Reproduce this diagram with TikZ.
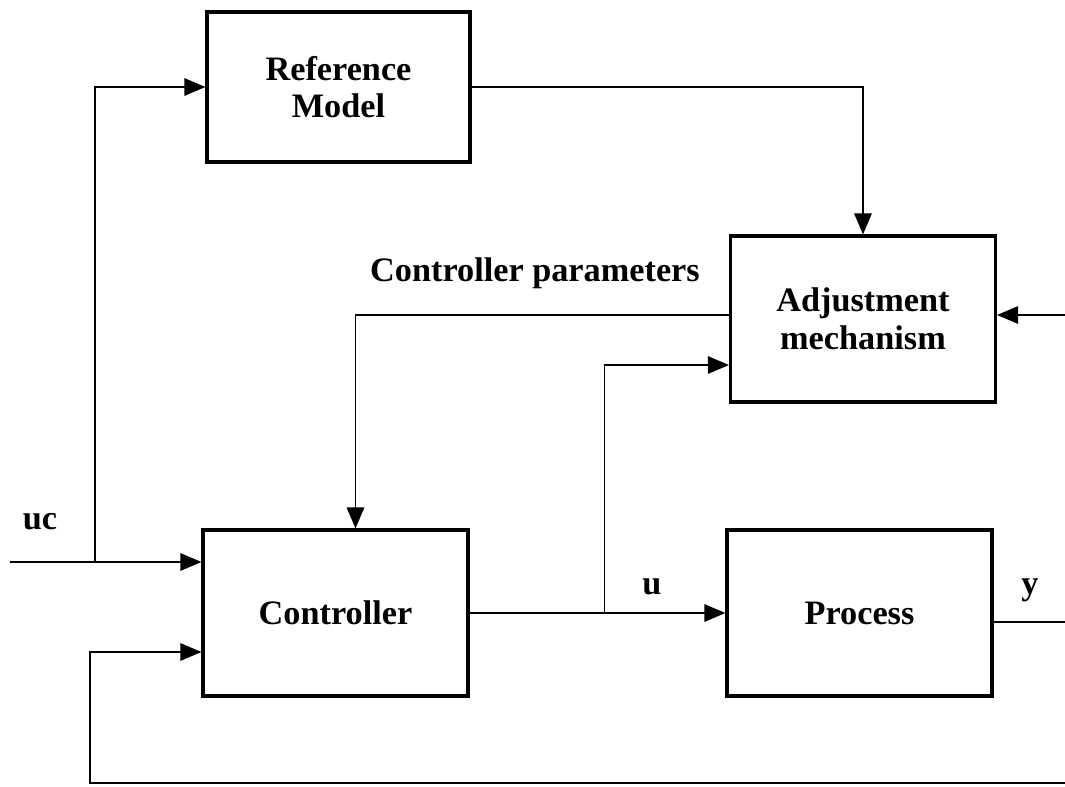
\documentclass[tikz,border=0pt]{standalone}
\usepackage{fontspec}
\setmainfont{Liberation Serif}
\usetikzlibrary{arrows.meta,calc}

\tikzset{
  block/.style={draw, line width=1.8pt, minimum width=5.3cm, minimum height=3.32cm,
    align=center, font=\fontsize{19.5}{21.5}\selectfont\bfseries},
  conn/.style={line width=0.8pt, -{Triangle[length=12pt,width=10pt]}},
  wire/.style={line width=0.8pt},
  lbl/.style={font=\fontsize{19.5}{21.5}\selectfont\bfseries}
}

\begin{document}
\begin{tikzpicture}
	\useasboundingbox (0,0) rectangle (21.3,-15.74);
	
	% blocks
	\node[block, minimum width=5.26cm, minimum height=3cm] (ref) at (6.77,-1.74) {Reference\\Model};
	\node[block] (adj) at (17.26,-6.38) {Adjustment\\mechanism};
	\node[block] (ctrl) at (6.71,-12.26) {Controller};
	\node[block] (proc) at (17.19,-12.26) {Process};
	
	% free ends
	\coordinate (ucin) at (0.2,-11.24);
	\coordinate (ucbr) at (1.9,-11.24);
	\coordinate (adjin) at (21.3,-6.3);
	\coordinate (yout) at (21.3,-12.44);
	\coordinate (fbr) at (21.3,-15.66);
	\coordinate (fbl) at (1.8,-15.66);
	\coordinate (ubr) at ($(ctrl.east)!0.527!(proc.west)$);
	
	% connectors
	\draw[conn] (ucin) -- (ctrl.west |- ucin);
	\draw[conn] (ucbr) |- (ref.west);
	\draw[conn] (ref.east) -| (adj.north);
	\draw[conn] ($(adj.west)+(0,0.08)$) -| ($(ctrl.north)+(0.4,0)$);
	\draw[conn] (ctrl.east) -- (proc.west);
	\draw[conn] (ubr) |- ($(adj.west)+(0,-0.92)$);
	\draw[conn] (adjin) -- (adj.east |- adjin);
	\draw[wire] (proc.east |- yout) -- (yout);
	\draw[conn] (fbr) -- (fbl) |- ($(ctrl.west)+(0,-0.78)$);
	
	% labels
	\node[lbl] (uclbl) at (0.8,-10.44) {uc};
	\node[lbl] (ulbl) at (13.04,-11.74) {u};
	\node[lbl] (ylbl) at (20.6,-11.8) {y};
	\node[lbl] (parlbl) at (10.7,-5.46) {Controller parameters};
\end{tikzpicture}
\end{document}
